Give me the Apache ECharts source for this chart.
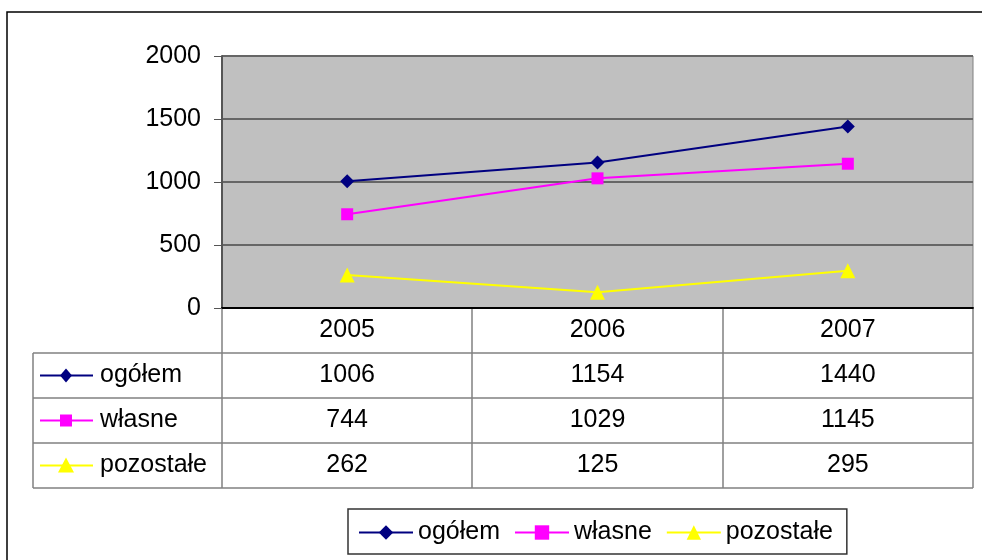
<!DOCTYPE html>
<html>
<head>
<meta charset="utf-8">
<script src="https://cdn.jsdelivr.net/npm/echarts@6/dist/echarts.min.js"></script>
<style>
  html, body { margin: 0; padding: 0; background: #fff; }
  #main { width: 982px; height: 560px; }
</style>
</head>
<body>
<div id="main"></div>
<script>
// dane z wykresu
const years = ['2005', '2006', '2007'];
const names = ['ogółem', 'własne', 'pozostałe'];
const ogolem = [1006, 1154, 1440];
const wlasne = [744, 1029, 1145];
const pozostale = [262, 125, 295];
const colors = ['#000080', '#ff00ff', '#ffff00'];
const symbols = ['diamond', 'rect', 'triangle'];
const symbolSizes = [14, 12, 15];

const FONT = '"Liberation Sans", Arial, sans-serif';
const FS = 25;
const plotLeft = 222;
const plotBottom = 308;
const rowH = 45;
const tableLeft = 33;
const tableRight = 973;

const chart = echarts.init(document.getElementById('main'));
const rows = [ogolem, wlasne, pozostale];

chart.setOption({
    animation: false,
    textStyle: { fontFamily: FONT },
    grid: {
        left: plotLeft, right: 982 - tableRight, top: 56, bottom: 560 - plotBottom,
        show: true, backgroundColor: '#c0c0c0', borderColor: '#808080', borderWidth: 1
    },
    xAxis: {
        type: 'category',
        data: years,
        boundaryGap: true,
        axisLine: { lineStyle: { color: '#000', width: 2 } },
        axisTick: { show: false },
        axisLabel: { margin: 10, fontSize: FS, color: '#000', fontFamily: FONT },
        splitLine: { show: false }
    },
    yAxis: {
        type: 'value',
        min: 0, max: 2000, interval: 500,
        axisLine: { show: true, lineStyle: { color: '#555', width: 2 } },
        axisTick: { show: true, length: 8, lineStyle: { color: '#555', width: 1 } },
        axisLabel: { margin: 21, fontSize: FS, color: '#000', fontFamily: FONT, formatter: v => String(v) },
        splitLine: { lineStyle: { color: '#666', width: 2 } }
    },
    legend: {
        left: 348, top: 509,
        itemWidth: 54, itemHeight: 18, itemGap: 14,
        padding: [11, 14, 9, 10],
        borderColor: '#333', borderWidth: 1.5,
        textStyle: { fontSize: FS, color: '#000', fontFamily: FONT },
        data: names
    },
    series: names.map((n, i) => ({
        name: n,
        type: 'line',
        data: rows[i],
        symbol: symbols[i],
        symbolSize: symbolSizes[i],
        itemStyle: { color: colors[i] },
        lineStyle: { color: colors[i], width: 2 }
    }))
});

// tabela danych pod wykresem
const g = [];
g.push({
    type: 'rect', silent: true,
    shape: { x: 7, y: 12, width: 990, height: 600 },
    style: { fill: 'none', stroke: '#000', lineWidth: 1.5 }
});
for (let r = 1; r <= 4; r++) {
    const y = plotBottom + r * rowH;
    g.push({
        type: 'line', silent: true,
        shape: { x1: tableLeft, y1: y, x2: tableRight, y2: y },
        style: { stroke: '#808080', lineWidth: 1.5 }
    });
}
g.push({
    type: 'line', silent: true,
    shape: { x1: tableLeft, y1: plotBottom + rowH, x2: tableLeft, y2: plotBottom + rowH * 4 },
    style: { stroke: '#808080', lineWidth: 1.5 }
});
// pionowe linie kolumn (granice kategorii)
const c0 = chart.convertToPixel({ xAxisIndex: 0 }, years[0]);
const c1 = chart.convertToPixel({ xAxisIndex: 0 }, years[1]);
const band = c1 - c0;
for (let k = 0; k <= years.length; k++) {
    const x = Math.round(c0 - band / 2 + k * band);
    g.push({
        type: 'line', silent: true,
        shape: { x1: x, y1: plotBottom + 1, x2: x, y2: plotBottom + rowH * 4 },
        style: { stroke: '#808080', lineWidth: 1.5 }
    });
}

function marker(kind, cx, cy, color) {
    if (kind === 'diamond') {
        return { type: 'polygon', silent: true, shape: { points: [[cx, cy - 7], [cx + 6, cy], [cx, cy + 7], [cx - 6, cy]] }, style: { fill: color } };
    }
    if (kind === 'rect') {
        return { type: 'rect', silent: true, shape: { x: cx - 6, y: cy - 6, width: 12, height: 12 }, style: { fill: color } };
    }
    return { type: 'polygon', silent: true, shape: { points: [[cx, cy - 8], [cx + 8, cy + 7], [cx - 8, cy + 7]] }, style: { fill: color } };
}

names.forEach((n, i) => {
    const cy = plotBottom + rowH * (i + 1) + rowH / 2;
    g.push({
        type: 'line', silent: true,
        shape: { x1: 40, y1: cy, x2: 93, y2: cy },
        style: { stroke: colors[i], lineWidth: 2 }
    });
    g.push(marker(symbols[i], 66, cy, colors[i]));
    g.push({
        type: 'text', silent: true,
        style: { x: 100, y: cy, text: n, fontSize: FS, fontFamily: FONT, fill: '#000', verticalAlign: 'middle', align: 'left' }
    });
    years.forEach((yr, j) => {
        const cx = chart.convertToPixel({ xAxisIndex: 0 }, yr);
        g.push({
            type: 'text', silent: true,
            style: { x: cx, y: cy, text: String(rows[i][j]), fontSize: FS, fontFamily: FONT, fill: '#000', verticalAlign: 'middle', align: 'center' }
        });
    });
});

chart.setOption({ graphic: g });
</script>
</body>
</html>
